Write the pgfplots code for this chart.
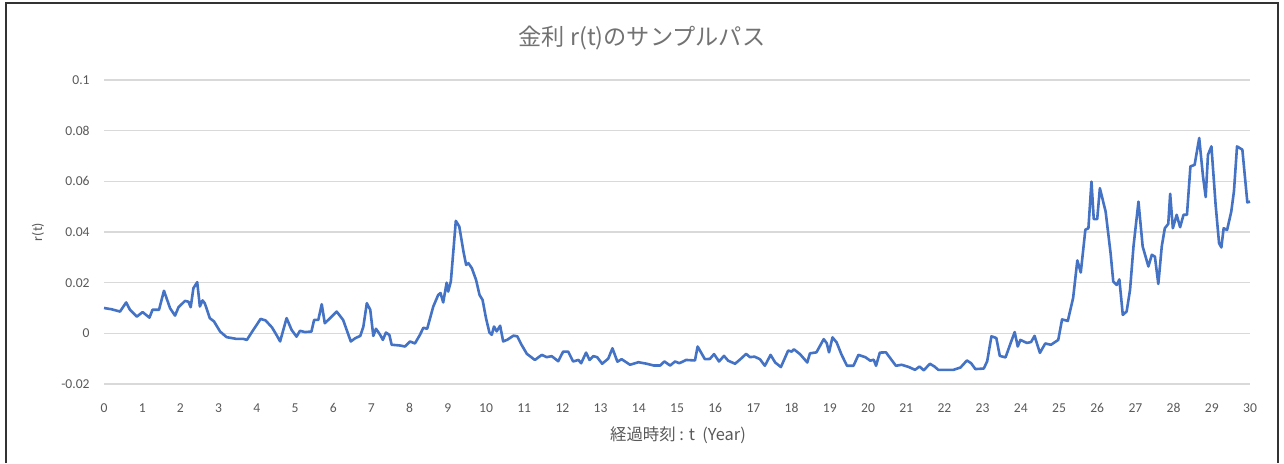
\documentclass[border=0pt]{standalone}
\usepackage{pgfplots}
\pgfplotsset{compat=1.18}
\usepackage{fontspec}
\setmainfont{Carlito}
\newfontfamily\cjk{Noto Sans CJK JP}
\definecolor{txtgray}{HTML}{595959}
\definecolor{gridgray}{HTML}{D9D9D9}
\definecolor{xlblue}{HTML}{4472C4}
\begin{document}
\begin{tikzpicture}
\useasboundingbox (0,0) rectangle (642pt,-231.5pt);
\draw[black!80, line width=1.2pt] (3pt,-231.5pt) -- (3pt,-1.5pt) -- (639pt,-1.5pt) -- (639pt,-231.5pt);
\begin{axis}[
  at={(52pt,-192pt)}, anchor=south west,
  scale only axis, width=573pt, height=152pt,
  xmin=0, xmax=30, ymin=-0.02, ymax=0.1,
  axis line style={draw=none},
  major tick length=0pt,
  xtick={0,1,...,30},
  ytick={-0.02,0,0.02,0.04,0.06,0.08,0.1},
  yticklabels={-0.02,0,0.02,0.04,0.06,0.08,0.1},
  ymajorgrids, grid style={gridgray, line width=0.8pt},
  /pgf/number format/assume math mode=true,
  yticklabel style={font=\fontsize{6.8}{8}\selectfont, text=txtgray, inner sep=0pt, anchor=east, xshift=-7pt},
  xticklabel style={font=\fontsize{6.8}{8}\selectfont, text=txtgray, inner sep=0pt, anchor=north, yshift=-9.5pt},
  clip=false,
]
\addplot[xlblue, line width=1.3pt, line join=round] coordinates {
(0.00,0.0100)(0.20,0.0095)(0.42,0.0086)(0.58,0.0122)(0.68,0.0093)(0.86,0.0066)(1.01,0.0084)(1.19,0.0062)
(1.27,0.0093)(1.44,0.0093)(1.57,0.0168)(1.73,0.0099)(1.86,0.0070)(1.95,0.0103)(2.12,0.0128)(2.21,0.0125)
(2.27,0.0103)(2.34,0.0178)(2.44,0.0202)(2.51,0.0106)(2.58,0.0130)(2.64,0.0118)(2.77,0.0060)(2.88,0.0047)
(3.04,0.0007)(3.21,-0.0015)(3.47,-0.0022)(3.65,-0.0022)(3.74,-0.0026)(3.91,0.0014)(4.10,0.0057)(4.23,0.0051)
(4.40,0.0023)(4.53,-0.0010)(4.61,-0.0032)(4.78,0.0060)(4.91,0.0014)(5.04,-0.0013)(5.13,0.0010)(5.26,0.0005)
(5.43,0.0007)(5.50,0.0053)(5.61,0.0053)(5.70,0.0115)(5.78,0.0040)(5.92,0.0060)(6.09,0.0086)(6.26,0.0053)
(6.46,-0.0032)(6.58,-0.0019)(6.71,-0.0010)(6.79,0.0027)(6.88,0.0119)(6.97,0.0093)(7.05,-0.0010)(7.12,0.0018)
(7.23,-0.0006)(7.30,-0.0026)(7.38,0.0003)(7.47,-0.0006)(7.53,-0.0045)(7.75,-0.0048)(7.88,-0.0052)(8.01,-0.0032)
(8.14,-0.0040)(8.27,-0.0006)(8.36,0.0022)(8.46,0.0018)(8.62,0.0106)(8.75,0.0152)(8.81,0.0159)(8.88,0.0122)
(8.97,0.0200)(9.01,0.0165)(9.08,0.0205)(9.21,0.0444)(9.30,0.0422)(9.41,0.0323)(9.48,0.0270)(9.54,0.0277)
(9.63,0.0257)(9.74,0.0211)(9.83,0.0152)(9.91,0.0132)(10.00,0.0060)(10.09,0.0003)(10.15,-0.0006)(10.21,0.0027)
(10.28,0.0008)(10.37,0.0030)(10.45,-0.0032)(10.56,-0.0025)(10.72,-0.0009)(10.82,-0.0012)(10.93,-0.0045)(11.07,-0.0081)
(11.28,-0.0105)(11.46,-0.0085)(11.59,-0.0094)(11.72,-0.0090)(11.89,-0.0110)(12.02,-0.0072)(12.15,-0.0072)(12.28,-0.0111)
(12.42,-0.0105)(12.49,-0.0118)(12.62,-0.0076)(12.71,-0.0105)(12.81,-0.0090)(12.91,-0.0094)(13.04,-0.0120)(13.20,-0.0100)
(13.31,-0.0059)(13.44,-0.0112)(13.55,-0.0102)(13.77,-0.0124)(13.99,-0.0114)(14.21,-0.0120)(14.39,-0.0127)(14.56,-0.0127)
(14.67,-0.0111)(14.82,-0.0127)(14.95,-0.0111)(15.06,-0.0118)(15.24,-0.0105)(15.47,-0.0107)(15.54,-0.0052)(15.73,-0.0102)
(15.86,-0.0101)(15.97,-0.0082)(16.10,-0.0111)(16.23,-0.0089)(16.34,-0.0108)(16.52,-0.0120)(16.66,-0.0102)(16.81,-0.0081)
(16.91,-0.0094)(17.03,-0.0092)(17.17,-0.0102)(17.30,-0.0128)(17.45,-0.0085)(17.57,-0.0115)(17.72,-0.0133)(17.91,-0.0068)
(18.00,-0.0072)(18.06,-0.0063)(18.22,-0.0082)(18.41,-0.0115)(18.48,-0.0079)(18.65,-0.0075)(18.84,-0.0023)(18.92,-0.0039)
(18.98,-0.0075)(19.07,-0.0016)(19.18,-0.0036)(19.31,-0.0085)(19.45,-0.0128)(19.62,-0.0128)(19.75,-0.0085)(19.93,-0.0094)
(20.06,-0.0108)(20.15,-0.0104)(20.21,-0.0128)(20.31,-0.0076)(20.47,-0.0075)(20.73,-0.0128)(20.88,-0.0124)(21.07,-0.0133)
(21.23,-0.0144)(21.35,-0.0131)(21.46,-0.0146)(21.62,-0.0120)(21.74,-0.0131)(21.84,-0.0144)(22.24,-0.0144)(22.42,-0.0135)
(22.59,-0.0107)(22.70,-0.0118)(22.81,-0.0141)(23.03,-0.0139)(23.12,-0.0110)(23.23,-0.0012)(23.30,-0.0015)(23.36,-0.0019)
(23.45,-0.0089)(23.60,-0.0095)(23.73,-0.0040)(23.84,0.0005)(23.92,-0.0052)(23.99,-0.0026)(24.16,-0.0038)(24.27,-0.0034)
(24.36,-0.0010)(24.50,-0.0077)(24.64,-0.0040)(24.79,-0.0045)(24.98,-0.0026)(25.08,0.0055)(25.23,0.0049)(25.37,0.0140)
(25.48,0.0288)(25.57,0.0240)(25.69,0.0409)(25.77,0.0415)(25.85,0.0599)(25.91,0.0451)(26.00,0.0451)(26.07,0.0573)
(26.22,0.0481)(26.35,0.0317)(26.42,0.0205)(26.51,0.0191)(26.58,0.0213)(26.67,0.0073)(26.77,0.0086)(26.86,0.0172)
(26.95,0.0343)(27.08,0.0520)(27.19,0.0343)(27.34,0.0264)(27.43,0.0310)(27.51,0.0303)(27.60,0.0195)(27.69,0.0343)
(27.77,0.0415)(27.86,0.0432)(27.91,0.0551)(27.98,0.0415)(28.08,0.0468)(28.17,0.0419)(28.26,0.0468)(28.35,0.0468)
(28.44,0.0659)(28.55,0.0665)(28.67,0.0771)(28.77,0.0619)(28.84,0.0538)(28.90,0.0705)(28.99,0.0738)(29.10,0.0507)
(29.19,0.0356)(29.25,0.0339)(29.31,0.0415)(29.40,0.0408)(29.51,0.0481)(29.58,0.0561)(29.66,0.0738)(29.80,0.0725)
(29.93,0.0517)(30.00,0.0520)
};
\end{axis}
\node[text=txtgray!85, font=\cjk\fontsize{11.6}{13}\selectfont] at (321pt,-19pt) {金利 r(t)のサンプルパス};
\node[text=txtgray, font=\cjk\fontsize{8.2}{10}\selectfont] at (339pt,-217.5pt) {経過時刻 : t\ \ (Year)};
\node[text=txtgray, font=\fontsize{7}{8}\selectfont, rotate=90] at (19pt,-116pt) {r(t)};
\end{tikzpicture}
\end{document}
